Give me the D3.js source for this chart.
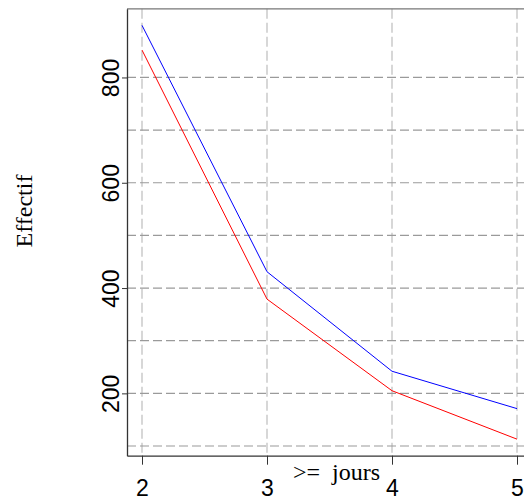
<!DOCTYPE html>
<html><head><meta charset="utf-8">
<script src="https://cdn.jsdelivr.net/npm/d3@7"></script>
<style>body{margin:0;background:#fff}svg{display:block}</style>
</head><body>
<script>
const days = [2, 3, 4, 5];
const blueSeries = [899, 431, 242, 171];
const redSeries = [852, 379, 205, 113];
const xTicks = [2, 3, 4, 5];
const yTicks = [200, 400, 600, 800];
const yGrid = [100, 200, 300, 400, 500, 600, 700, 800];
const yLabel = "Effectif";
const xLabel = ">=  jours";

const W = 524, H = 502;
const svg = d3.select("body").append("svg").attr("width", W).attr("height", H);

const x = d3.scaleLinear().domain([1.88, 5.12]).range([127, 532]);
const y = d3.scaleLinear().domain([81.6, 930.4]).range([455.7, 8.8]);

// grid
svg.append("g").selectAll("line").data(xTicks).join("line")
  .attr("x1", d => x(d)).attr("x2", d => x(d))
  .attr("y1", y(930.4)).attr("y2", y(81.6))
  .attr("stroke", "#bdbdbd").attr("stroke-width", 1.2).attr("stroke-dasharray", "10,4");
svg.append("g").selectAll("line").data(yGrid).join("line")
  .attr("x1", x(1.88)).attr("x2", x(5.12))
  .attr("y1", d => y(d)).attr("y2", d => y(d))
  .attr("stroke", "#9a9a9a").attr("stroke-width", 1.2).attr("stroke-dasharray", "9,4");

// box
svg.append("line").attr("x1", x(1.88)).attr("x2", x(5.12)).attr("y1", y(930.4)).attr("y2", y(930.4))
  .attr("stroke", "#777").attr("stroke-width", 1.3);

// lines
const line = d3.line().x((d, i) => x(days[i])).y(d => y(d));
svg.append("path").datum(redSeries).attr("d", line).attr("fill", "none").attr("stroke", "#ff0000").attr("stroke-width", 1);
svg.append("path").datum(blueSeries).attr("d", line).attr("fill", "none").attr("stroke", "#0000ff").attr("stroke-width", 1);

// axes
const xAxis = d3.axisBottom(x).tickValues(xTicks).tickSize(9).tickPadding(15).tickSizeOuter(0).tickFormat(d3.format("d"));
const gx = svg.append("g").attr("transform", `translate(0,${y(81.6)})`).call(xAxis);
gx.select(".domain").attr("stroke", "#333").attr("stroke-width", 1.3);
gx.selectAll(".tick line").attr("stroke", "#333");
gx.selectAll("text").attr("font-family", "'Liberation Sans', Arial, sans-serif").attr("font-size", 23).attr("fill", "#000");

const yAxis = d3.axisLeft(y).tickValues(yTicks).tickSize(5).tickSizeOuter(0);
const gy = svg.append("g").attr("transform", `translate(${x(1.88)},0)`).call(yAxis);
gy.select(".domain").attr("stroke", "#333").attr("stroke-width", 1.3);
gy.selectAll(".tick line").attr("stroke", "#333");
gy.selectAll(".tick text").remove();
gy.selectAll(".tick").append("text")
  .attr("transform", "translate(-8,0) rotate(-90)")
  .attr("text-anchor", "middle").attr("dy", 0)
  .attr("font-family", "'Liberation Sans', Arial, sans-serif").attr("font-size", 23).attr("fill", "#000")
  .text(d => d);

// labels
svg.append("text").attr("transform", "translate(32,211) rotate(-90)")
  .attr("text-anchor", "middle").attr("font-family", "'Liberation Serif', 'Times New Roman', serif")
  .attr("font-size", 24).attr("fill", "#000").text(yLabel);
svg.append("text").attr("x", 293).attr("y", 480).attr("text-anchor", "start")
  .attr("font-family", "'Liberation Serif', 'Times New Roman', serif").attr("font-size", 24)
  .attr("fill", "#000").style("white-space", "pre").text(xLabel);
</script>
</body></html>
